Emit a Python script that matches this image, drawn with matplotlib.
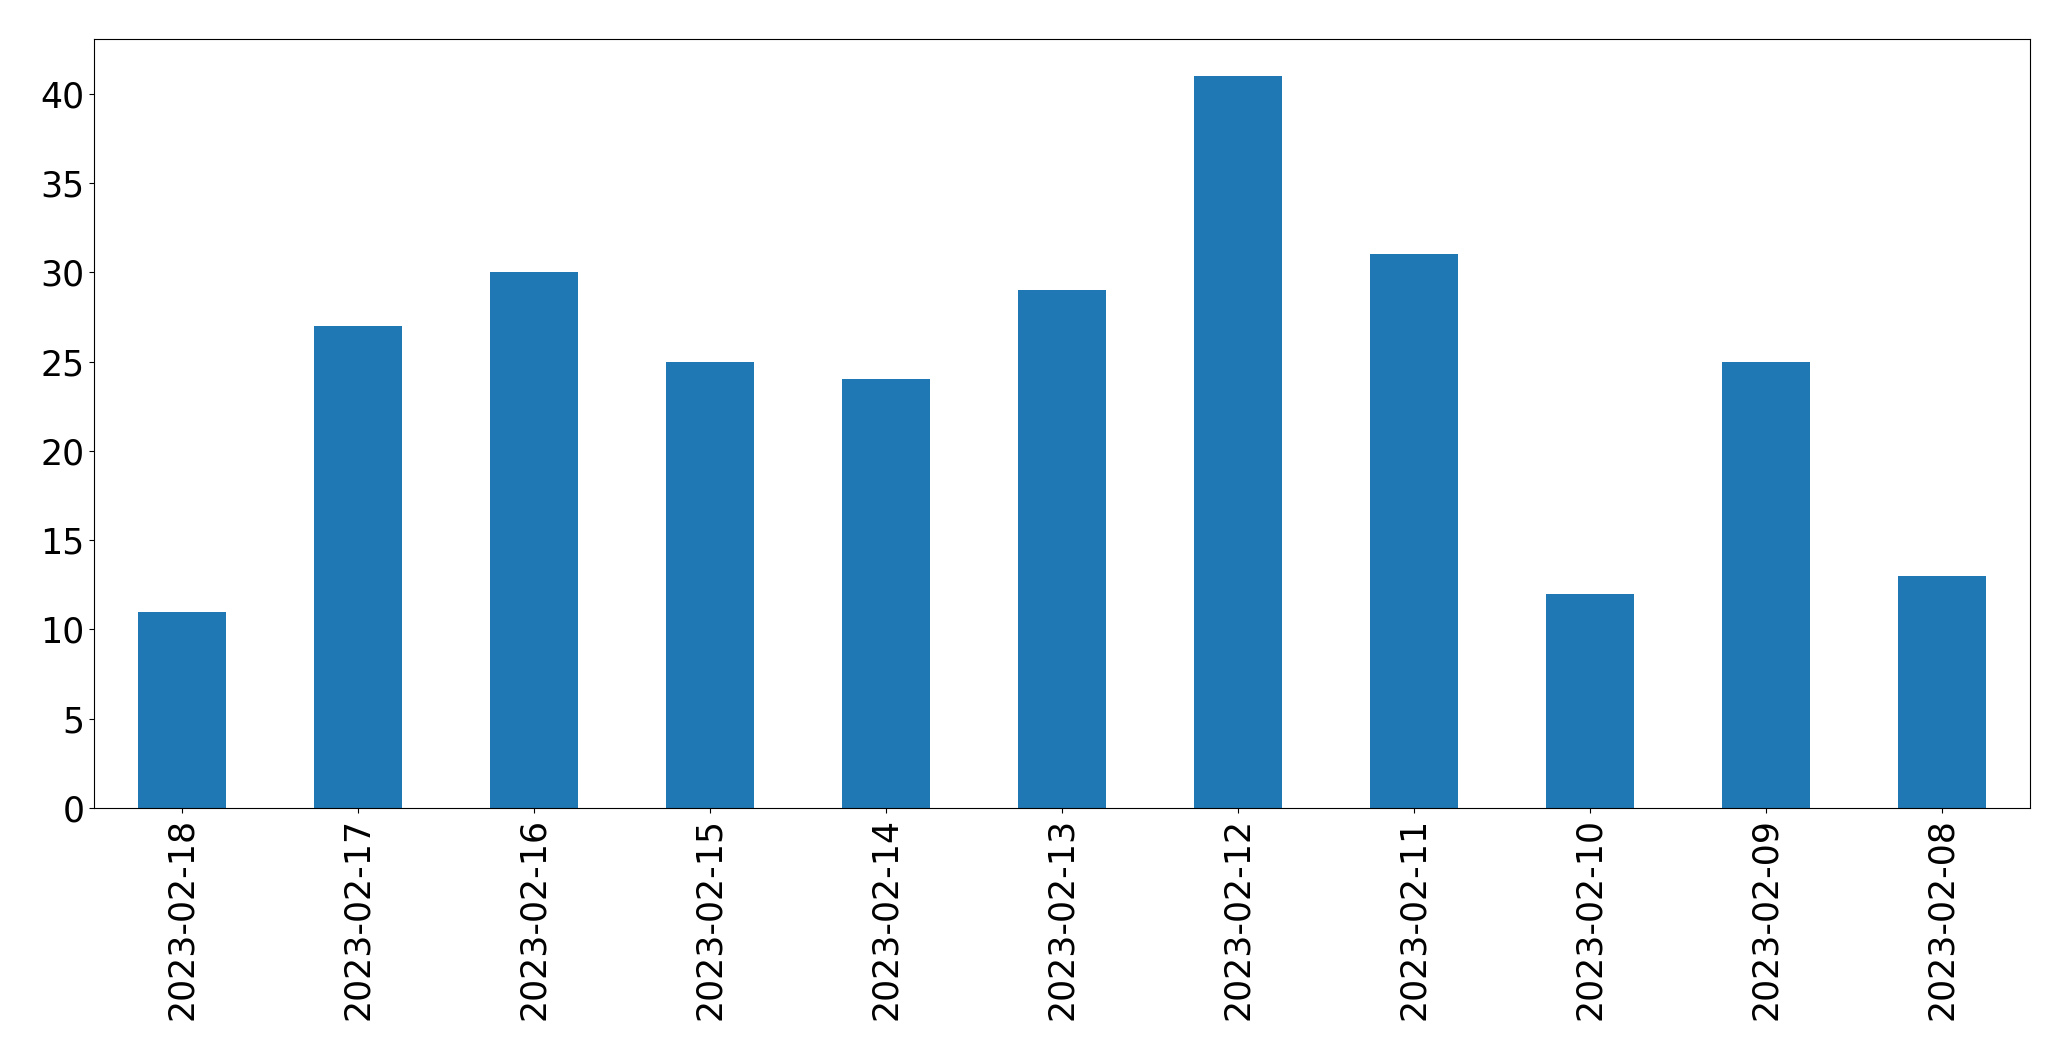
import matplotlib
matplotlib.use('Agg')
import matplotlib.pyplot as plt
import pandas as pd

dates = ['2023-02-18', '2023-02-17', '2023-02-16', '2023-02-15', '2023-02-14',
         '2023-02-13', '2023-02-12', '2023-02-11', '2023-02-10', '2023-02-09',
         '2023-02-08']
counts = [11, 27, 30, 25, 24, 29, 41, 31, 12, 25, 13]

series = pd.Series(counts, index=dates)

fig, ax = plt.subplots(figsize=(20.71, 10.61), dpi=100)
series.plot(kind='bar', ax=ax, color='#1f77b4', fontsize=25)
ax.tick_params(axis='x', labelrotation=90)
fig.subplots_adjust(left=0.0454, right=0.980, top=0.963, bottom=0.2385)

fig.savefig('out.png', dpi=100)
